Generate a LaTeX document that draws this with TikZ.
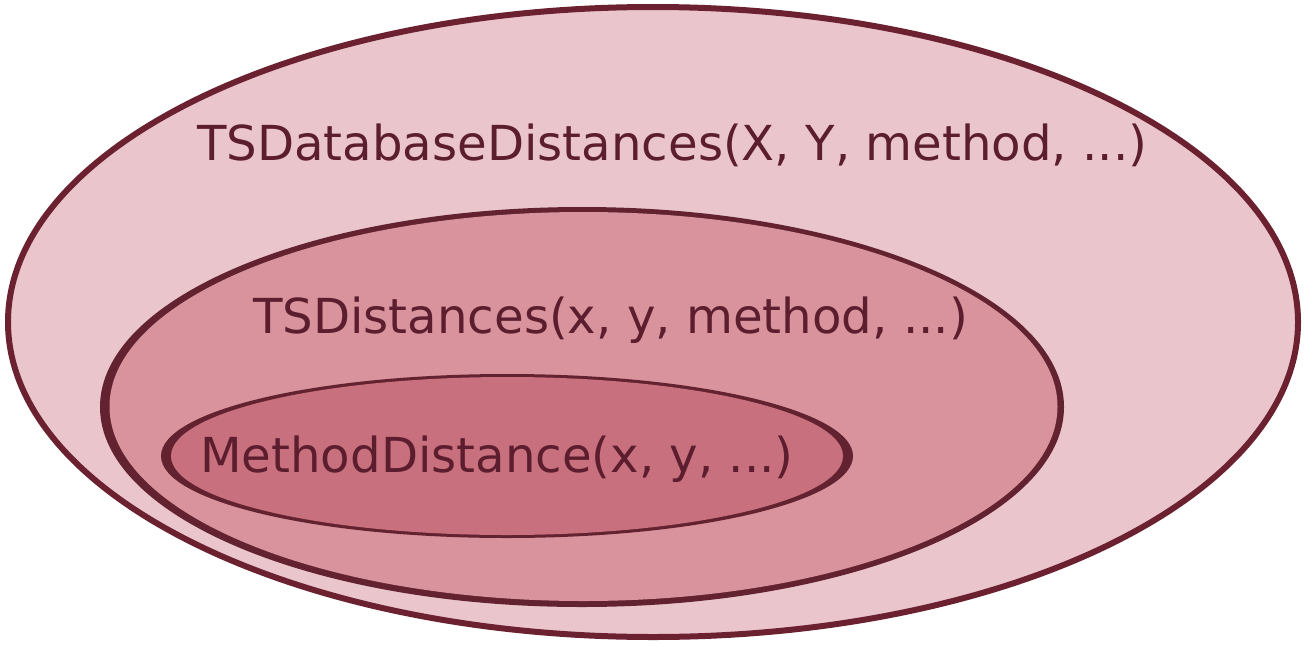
\documentclass[tikz,border=0pt]{standalone}
\usepackage{fontspec}
\setmainfont{DejaVu Sans}
\definecolor{outerfill}{HTML}{EAC6CC}
\definecolor{midfill}{HTML}{D8939C}
\definecolor{innerfill}{HTML}{C8707D}
\definecolor{edgeA}{HTML}{6B2130}
\definecolor{edgeB}{HTML}{62222F}
\definecolor{txt}{HTML}{5C1E2E}
\tikzset{lbl/.style={inner sep=0pt, anchor=base west, text=txt, font=\fontsize{48.2}{58}\selectfont}}
\begin{document}
\begin{tikzpicture}[x=1pt,y=-1pt]
\useasboundingbox (0,0) rectangle (1305,648);
% outer
\draw[fill=outerfill, draw=edgeA, line width=6pt] (653,322) ellipse [x radius=645, y radius=315];
% middle (variable stroke)
\fill[edgeB] (582,407) ellipse [x radius=482, y radius=200];
\fill[midfill] (583.5,406.5) ellipse [x radius=474, y radius=194.5];
% inner (variable stroke)
\fill[edgeB] (507,456) ellipse [x radius=346, y radius=82];
\fill[innerfill] (507,456) ellipse [x radius=336, y radius=79];
\node[lbl] (t1) at (197,160) {TSDatabaseDistances(X, Y, method, ...)};
\node[lbl] (t2) at (253,333) {TSDistances(x, y, method, ...)};
\node[lbl] (t3) at (200,472) {MethodDistance(x, y, ...)};
\end{tikzpicture}
\end{document}
